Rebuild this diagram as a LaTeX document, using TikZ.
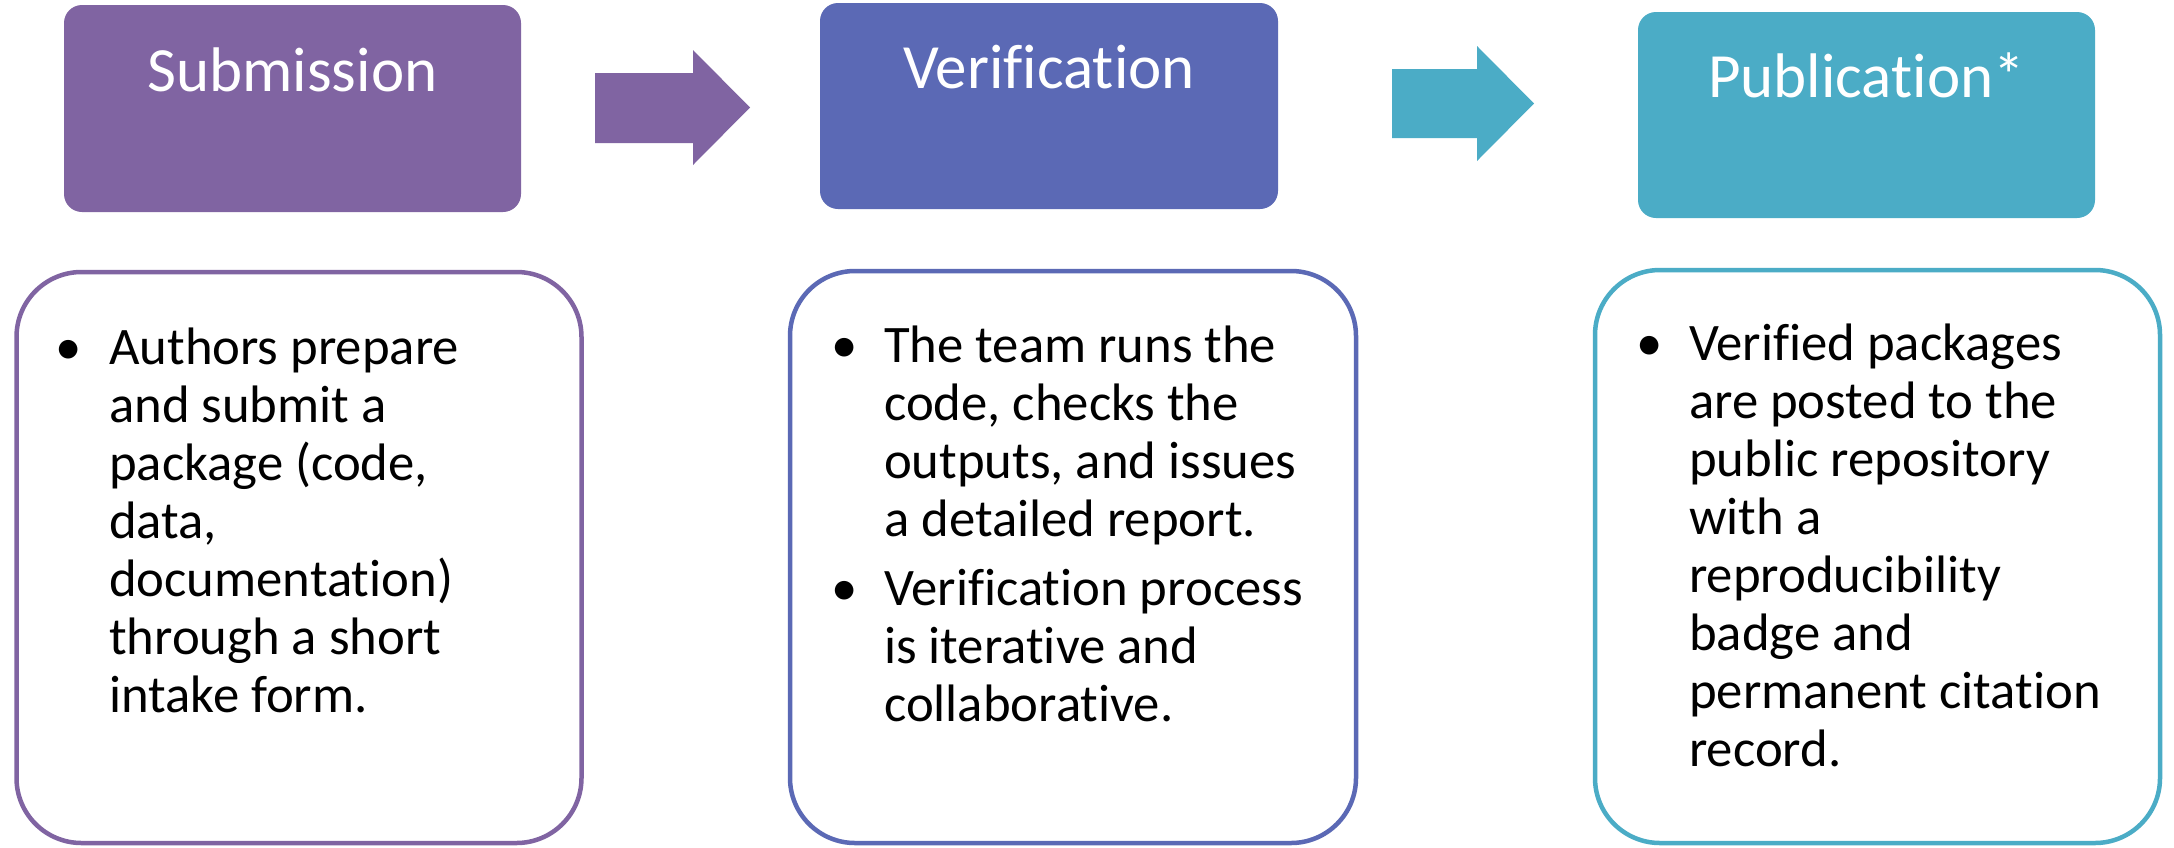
\documentclass[tikz,border=0pt]{standalone}
\usepackage{fontspec}
\setmainfont{Carlito}[Ligatures=NoCommon]
\definecolor{cpurple}{HTML}{8064A2}
\definecolor{cblue}{HTML}{5B69B5}
\definecolor{cteal}{HTML}{4BACC6}
\newcommand{\tlines}[1]{\vtop{\baselineskip=58pt\lineskiplimit=-100pt\lineskip=0pt #1}}
\begin{document}
\begin{tikzpicture}[x=1pt,y=-1pt,
  topbox/.style={rounded corners=18pt, inner sep=0pt, draw=none},
  lowbox/.style={rounded corners=65pt, inner sep=0pt, line width=4.5pt, fill=white},
  titletext/.style={text=white, inner sep=0pt, anchor=base, font=\fontsize{63}{70}\selectfont},
  body/.style={inner sep=0pt, anchor=base west, font=\fontsize{52.7}{58}\selectfont},
  bul/.style={inner sep=0pt, anchor=base, font=\fontsize{52.7}{58}\selectfont}]
\useasboundingbox (0,0) rectangle (2174,847);
\fill[white] (0,0) rectangle (2174,847);

% top boxes
\node[topbox, fill=cpurple, minimum width=457pt, minimum height=207pt] (b1) at (292.5,108.5) {};
\node[topbox, fill=cblue,   minimum width=458pt, minimum height=206pt] (b2) at (1049,106) {};
\node[topbox, fill=cteal,   minimum width=457pt, minimum height=206pt] (b3) at (1866.5,115) {};

\node[titletext] (t1) at ([yshift=-87pt]b1.north) {Submission};
\node[titletext] (t2) at ([yshift=-86pt]b2.north) {Verification};
\node[titletext] (t3) at ([yshift=-86pt]b3.north) {Publication*};

% block arrows
\fill[cpurple] (595,73) -- (693,73) -- (693,50) -- (750,107.5) -- (693,165) -- (693,143) -- (595,143) -- cycle;
\fill[cteal] (1392,69) -- (1477,69) -- (1477,46) -- (1534,103.5) -- (1477,161) -- (1477,138) -- (1392,138) -- cycle;

% lower boxes
\node[lowbox, draw=cpurple, minimum width=565pt, minimum height=571pt] (d1) at (299,557.5) {};
\node[lowbox, draw=cblue,   minimum width=566pt, minimum height=572pt] (d2) at (1073,557) {};
\node[lowbox, draw=cteal,   minimum width=565pt, minimum height=573pt] (d3) at (1877.5,556.5) {};

% box 1 text
\node[bul] (u1) at (69,364) {•};
\node[body] (x1) at (109,364) {\tlines{\hbox{Authors prepare}\hbox{and submit a}\hbox{package (code,}\hbox{data,}\hbox{documentation)}\hbox{through a short}\hbox{intake form.}}};

% box 2 text
\node[bul] (u2) at (845,362) {•};
\node[body] (x2) at (884,362) {\tlines{\hbox{The team runs the}\hbox{code, checks the}\hbox{outputs, and issues}\hbox{a detailed report.}}};
\node[bul] (u3) at (845,605) {•};
\node[body] (x3) at (884,605) {\tlines{\hbox{Verification process}\hbox{is iterative and}\hbox{collaborative.}}};

% box 3 text
\node[bul] (u4) at (1650,360) {•};
\node[body] (x4) at (1689,360) {\tlines{\hbox{Verified packages}\hbox{are posted to the}\hbox{public repository}\hbox{with a}\hbox{reproducibility}\hbox{badge and}\hbox{permanent citation}\hbox{record.}}};
\end{tikzpicture}
\end{document}
